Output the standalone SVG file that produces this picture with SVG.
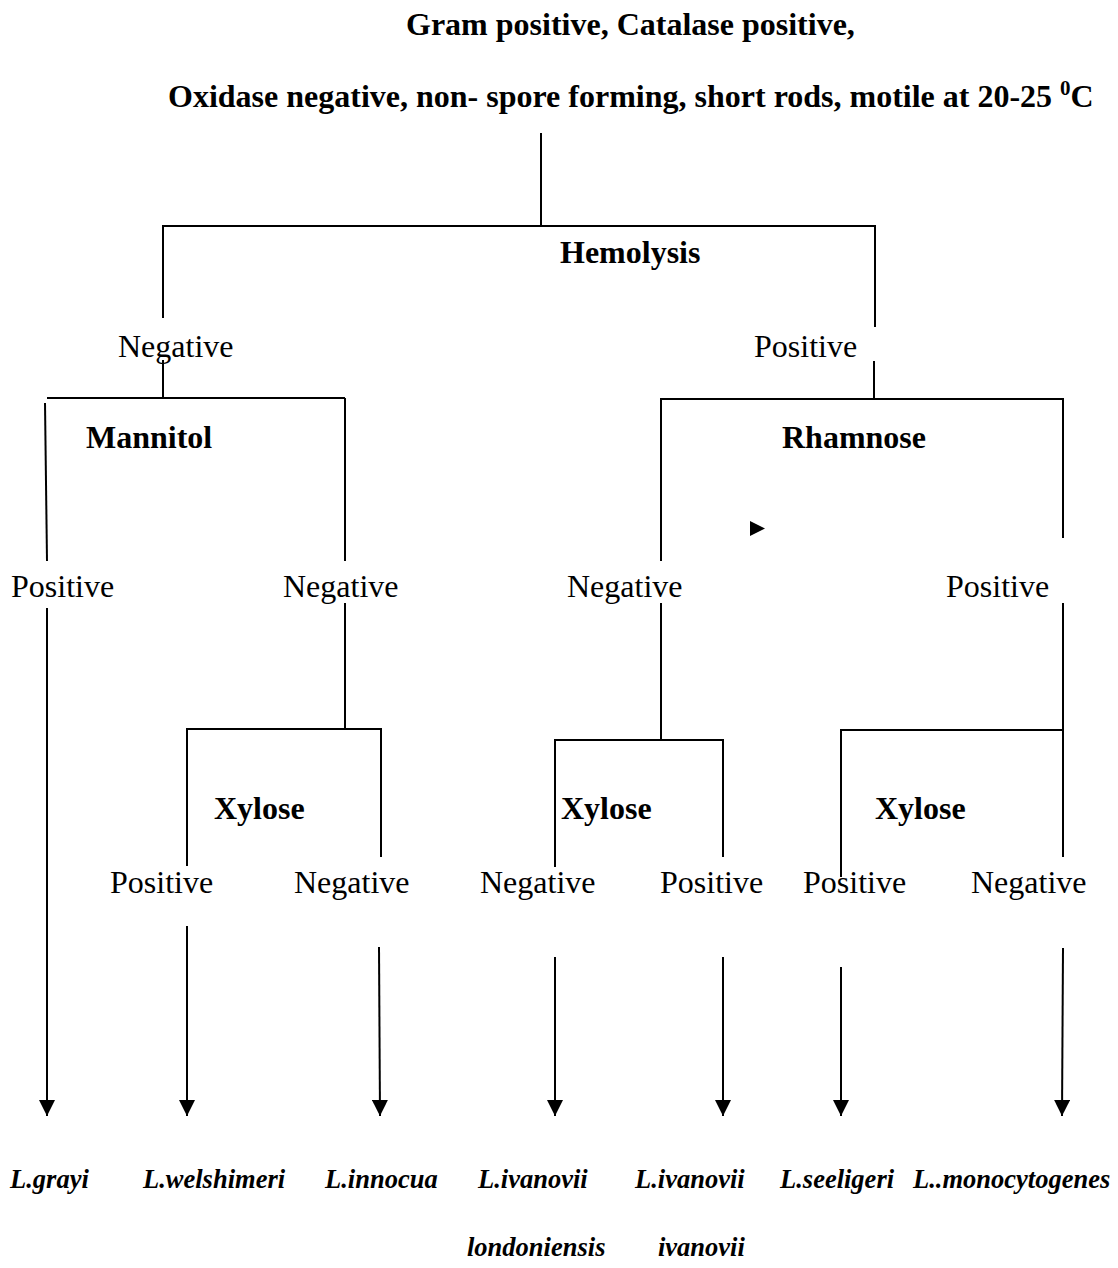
<svg xmlns="http://www.w3.org/2000/svg" width="1118" height="1268" viewBox="0 0 1118 1268">
<style>
text{font-family:"Liberation Serif","Times New Roman",serif;fill:#000}
.b{font-weight:bold;font-size:32px}
.l{font-size:32px}
.s{font-weight:bold;font-style:italic;font-size:26.5px}
#connectors line,#connectors polyline{stroke:#000;stroke-width:2;fill:none}
.arr{marker-end:url(#ah)}
</style>
<defs>
<marker id="ah" markerUnits="userSpaceOnUse" markerWidth="16" markerHeight="16" refX="16" refY="8" orient="auto"><path d="M0,0 L16,8 L0,16 Z" fill="#000"/></marker>
</defs>
<rect width="1118" height="1268" fill="#fff"/>
<g id="connectors">
<line x1="541" y1="133" x2="541" y2="226"/>
<polyline points="163,318 163,226 875,226 875,327"/>
<line x1="874" y1="361" x2="874" y2="399"/>
<line x1="163" y1="360" x2="163" y2="398"/>
<line x1="47" y1="398" x2="345" y2="398"/>
<line x1="345" y1="398" x2="345" y2="561"/>
<line x1="45" y1="403" x2="47" y2="561"/>
<polyline points="661,561 661,399 1063,399 1063,538"/>
<polygon points="750,521 765,528.5 750,536" fill="#000"/>
<line class="arr" x1="47" y1="608" x2="47" y2="1116"/>
<line x1="345" y1="603" x2="345" y2="729"/>
<polyline points="187,866 187,729 381,729 381,857"/>
<line x1="661" y1="603" x2="661" y2="740"/>
<polyline points="555,867 555,740 723,740 723,857"/>
<line x1="1063" y1="603" x2="1063" y2="857"/>
<polyline points="841,877 841,730 1063,730"/>
<line class="arr" x1="187" y1="926" x2="187" y2="1116"/>
<line class="arr" x1="379" y1="947" x2="380" y2="1116"/>
<line class="arr" x1="555" y1="957" x2="555" y2="1116"/>
<line class="arr" x1="723" y1="957" x2="723" y2="1116"/>
<line class="arr" x1="841" y1="967" x2="841" y2="1116"/>
<line class="arr" x1="1063" y1="948" x2="1062" y2="1116"/>
</g>
<g id="title"><text class="b" x="406" y="35">Gram positive, Catalase positive,</text>
<text class="b" x="168" y="107">Oxidase negative, non- spore forming, short rods, motile at 20-25 <tspan font-size="21" dy="-12">0</tspan><tspan dy="12">C</tspan></text></g>
<g id="hemolysis"><text class="b" x="560" y="263">Hemolysis</text></g>
<g id="hemolysis-neg"><text class="l" x="118" y="357">Negative</text></g>
<g id="hemolysis-pos"><text class="l" x="754" y="357">Positive</text></g>
<g id="mannitol"><text class="b" x="86" y="448">Mannitol</text></g>
<g id="rhamnose"><text class="b" x="782" y="448">Rhamnose</text></g>
<g id="mannitol-pos"><text class="l" x="11" y="597">Positive</text></g>
<g id="mannitol-neg"><text class="l" x="283" y="597">Negative</text></g>
<g id="rhamnose-neg"><text class="l" x="567" y="597">Negative</text></g>
<g id="rhamnose-pos"><text class="l" x="946" y="597">Positive</text></g>
<g id="xylose1"><text class="b" x="214" y="819">Xylose</text></g>
<g id="xylose2"><text class="b" x="561" y="819">Xylose</text></g>
<g id="xylose3"><text class="b" x="875" y="819">Xylose</text></g>
<g id="x1-pos"><text class="l" x="110" y="893">Positive</text></g>
<g id="x1-neg"><text class="l" x="294" y="893">Negative</text></g>
<g id="x2-neg"><text class="l" x="480" y="893">Negative</text></g>
<g id="x2-pos"><text class="l" x="660" y="893">Positive</text></g>
<g id="x3-pos"><text class="l" x="803" y="893">Positive</text></g>
<g id="x3-neg"><text class="l" x="971" y="893">Negative</text></g>
<g id="grayi"><text class="s" x="10" y="1188">L.grayi</text></g>
<g id="welshimeri"><text class="s" x="143" y="1188">L.welshimeri</text></g>
<g id="innocua"><text class="s" x="325" y="1188">L.innocua</text></g>
<g id="ivanovii-lond"><text class="s" x="478" y="1188">L.ivanovii</text><text class="s" x="467" y="1256">londoniensis</text></g>
<g id="ivanovii-iv"><text class="s" x="635" y="1188">L.ivanovii</text><text class="s" x="658" y="1256">ivanovii</text></g>
<g id="seeligeri"><text class="s" x="780" y="1188">L.seeligeri</text></g>
<g id="monocytogenes"><text class="s" x="913" y="1188">L..monocytogenes</text></g>
</svg>
